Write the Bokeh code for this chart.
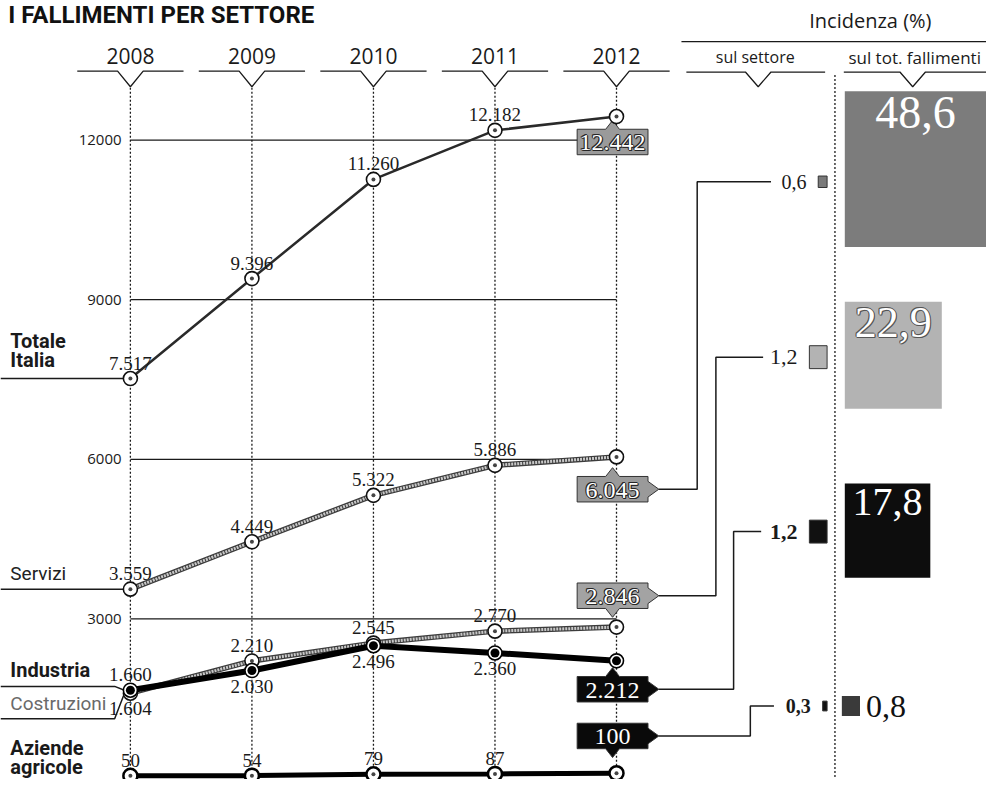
from bokeh.plotting import figure
from bokeh.models import Range1d
from bokeh.core.properties import value
from bokeh.embed import file_html
from bokeh.resources import INLINE

# ---------------- data ----------------
years = [2008, 2009, 2010, 2011, 2012]
year_labels = ["2008", "2009", "2010", "2011", "2012"]
totale = [7517, 9396, 11260, 12182, 12442]
servizi = [3559, 4449, 5322, 5886, 6045]
costruzioni = [1604, 2210, 2545, 2770, 2846]
industria = [1660, 2030, 2496, 2360, 2212]
agricole = [50, 54, 79, 87, 100]
grid_values = [3000, 6000, 9000, 12000]
grid_labels = ["3000", "6000", "9000", "12000"]
inc_settore = [0.6, 1.2, 1.2, 0.3]
inc_settore_labels = ["0,6", "1,2", "1,2", "0,3"]
inc_totale = [48.6, 22.9, 17.8, 0.8]
inc_totale_labels = ["48,6", "22,9", "17,8", "0,8"]


def fmt(v):
    return f"{v:,}".replace(",", ".")


# ---------------- layout helpers (reference-pixel space) ----------------
W, H = 986, 779
REF_W, REF_H = 1002, 795
X0PX, PX_YEAR = 132.0, 123.5
Y0PX, PX_UNIT = 794.0, 0.0543

SANS = "Open Sans"
NARROW = "Roboto"
SERIF = "Liberation Serif"
INK = "#1a1a1a"


def dx(px):
    return 2008 + (px - X0PX) / PX_YEAR


def dy(py):
    return (Y0PX - py) / PX_UNIT


def px_x(yr):
    return X0PX + (yr - 2008) * PX_YEAR


def px_y(v):
    return Y0PX - v * PX_UNIT


p = figure(width=W, height=H,
           x_range=Range1d(dx(0), dx(REF_W)), y_range=Range1d(dy(REF_H), dy(0)),
           output_backend="svg", toolbar_location=None, min_border=0,
           x_axis_location=None, y_axis_location=None)
p.grid.visible = False
p.outline_line_color = None
p.background_fill_color = "white"
p.border_fill_color = "white"


def pl(xs, ys, color=INK, width=1.4, dash="solid"):
    p.line([dx(x) for x in xs], [dy(y) for y in ys], line_color=color,
           line_width=width, line_dash=dash)


def txt(x, y, s, size, font=SANS, style="normal", color=INK, align="left",
        baseline="middle", shadow=None):
    if shadow:
        for ox, oy in ((-1, 0), (1, 0), (0, -1), (0, 1), (1, 1), (-1, -1)):
            p.text(x=[dx(x)], y=[dy(y)], text=[s], text_font=value(font),
                   text_font_size=f"{size}px", text_font_style=style,
                   text_color=shadow, text_align=align, text_baseline=baseline,
                   x_offset=ox, y_offset=oy)
    p.text(x=[dx(x)], y=[dy(y)], text=[s], text_font=value(font),
           text_font_size=f"{size}px", text_font_style=style, text_color=color,
           text_align=align, text_baseline=baseline)


def poly(pts, fill, line=None):
    p.patch([dx(a) for a, b in pts], [dy(b) for a, b in pts], fill_color=fill,
            line_color=line if line else fill, line_width=1)


# ---------------- title & headers ----------------
txt(8, 15, "I FALLIMENTI PER SETTORE", 24, font=NARROW, style="bold", color="#111")

p.text(x=years, y=[dy(57)] * 5, text=year_labels, text_font=value(SANS),
       text_font_size="21px", text_align="center", text_baseline="middle",
       text_color=INK)
for yr in years:
    cx = px_x(yr)
    pl([cx - 54, cx - 13, cx, cx + 13, cx + 54], [72, 72, 88, 72, 72], width=1.3)

txt(884, 20, "Incidenza (%)", 20, align="center")
pl([692, 1002], [42, 42], width=1.3)
txt(767, 58, "sul settore", 16, align="center")
txt(929, 58, "sul tot. fallimenti", 17, align="center")
pl([697, 757, 770, 783, 838], [73, 73, 88, 73, 73], width=1.3)
pl([857, 914, 927, 940, 1002], [73, 73, 88, 73, 73], width=1.3)
pl([848, 848], [76, 795], width=1.3, dash="2 2")

# year dotted guides
p.segment(x0=years, y0=[dy(89)] * 5, x1=years, y1=[dy(792)] * 5,
          line_color=INK, line_width=1.3, line_dash="2 2")

# ---------------- grid ----------------
p.segment(x0=[years[0]] * 4, y0=grid_values, x1=[years[-1]] * 4, y1=grid_values,
          line_color=INK, line_width=1.3)
p.text(x=[dx(123)] * 4, y=grid_values, text=grid_labels, text_font=value(SANS),
       text_font_size="15px", text_align="right", text_baseline="middle",
       text_color=INK)

# ---------------- series lines ----------------
p.line(years, totale, line_color="#2a2a2a", line_width=2.5)
for s in (servizi, costruzioni):
    p.line(years, s, line_color="#3c3c3c", line_width=5.5)
    p.line(years, s, line_color="#c8c8c8", line_width=3, line_dash="2 1")
p.line(years, industria, line_color="#000000", line_width=6)
p.line(years, agricole, line_color="#000000", line_width=5)

# ---------------- left labels ----------------
ty = px_y(totale[0])
pl([0, 125], [ty, ty], width=1.5)
txt(10, ty - 26, "Totale", 20, font=NARROW, style="bold", baseline="bottom")
txt(10, ty - 7, "Italia", 20, font=NARROW, style="bold", baseline="bottom")

sy = px_y(servizi[0])
pl([0, 125], [sy, sy], width=1.5)
txt(10, sy - 4, "Servizi", 19, font=NARROW, baseline="bottom", color="#222")

iy = px_y(industria[0])
cy = px_y(costruzioni[0])
pl([0, 116, 126], [700, 700, iy], width=1.5)
pl([0, 116, 126], [733, 733, cy], width=1.5)
txt(10, 695, "Industria", 20, font=NARROW, style="bold", baseline="bottom")
txt(10, 729, "Costruzioni", 19, font=NARROW, baseline="bottom", color="#6a6a6a")

txt(10, 751, "Aziende", 20, font=NARROW, style="bold", baseline="top")
txt(10, 770, "agricole", 20, font=NARROW, style="bold", baseline="top")

# ---------------- 2012 value boxes + connectors ----------------
rows_y = [185, 364, 542, 720]
turn_x = [708, 727, 745, 762]
end_x = [783, 775, 773, 786]


def box_pts(cx, cyy, w, h, up, down, right):
    L, R, T, B = cx - w / 2, cx + w / 2, cyy - h / 2, cyy + h / 2
    pts = [(L, T)]
    if up:
        pts += [(cx - 7, T), (cx, T - 9), (cx + 7, T)]
    pts += [(R, T)]
    if right:
        pts += [(R, cyy - 8), (R + 11, cyy), (R, cyy + 8)]
    pts += [(R, B)]
    if down:
        pts += [(cx + 7, B), (cx, B + 9), (cx - 7, B)]
    pts += [(L, B)]
    return pts, R + 11


box_specs = [
    # series, offset, up, down, right, fill, shadowed text, row index
    (totale, 26, True, False, False, "#9a9a9a", True, None),
    (servizi, 33, True, False, True, "#9a9a9a", True, 0),
    (costruzioni, -32, False, True, True, "#a3a3a3", True, 1),
    (industria, 29, True, False, True, "#0a0a0a", False, 2),
    (agricole, -38, False, True, True, "#0a0a0a", False, 3),
]
bx = px_x(2012) - 4
for series, off, up, down, right, fill, shad, row in box_specs:
    byc = px_y(series[-1]) + off
    pts, tip = box_pts(bx, byc, 72, 26, up, down, right)
    poly(pts, fill, "#333333")
    if row is not None:
        pl([tip, turn_x[row], turn_x[row], end_x[row]],
           [byc, byc, rows_y[row], rows_y[row]], width=1.5)
    txt(bx, byc + 1, fmt(series[-1]), 24, font=SERIF, color="white",
        align="center", shadow="#262626" if shad else None)

# ---------------- points ----------------
for s in (totale, servizi, costruzioni):
    p.scatter(years, s, size=14, fill_color="white", line_color="#111", line_width=1.6)
    p.scatter(years, s, size=4, fill_color="#444", line_color=None)
p.scatter(years, industria, size=14, fill_color="white", line_color="#000", line_width=1.6)
p.scatter(years, industria, size=9, fill_color="#000", line_color=None)
p.scatter(years, agricole, size=14, fill_color="white", line_color="#000", line_width=2.5)
p.scatter(years, agricole, size=4, fill_color="#444", line_color=None)

# ---------------- value labels 2008-2011 ----------------
label_pos = [
    (totale, ["a", "a", "a", "a"]),
    (servizi, ["a", "a", "a", "a"]),
    (costruzioni, ["b", "a", "a", "a"]),
    (industria, ["a", "b", "b", "b"]),
    (agricole, ["a", "a", "a", "a"]),
]
for series, pos in label_pos:
    for which, base, off in (("a", "bottom", -9), ("b", "top", 9)):
        xs = [years[i] for i in range(4) if pos[i] == which]
        ys = [series[i] for i in range(4) if pos[i] == which]
        if not xs:
            continue
        p.text(x=xs, y=ys, text=[fmt(v) for v in ys], text_font=value(SERIF),
               text_font_size="19px", text_align="center", text_baseline=base,
               y_offset=off, text_color=INK)

# ---------------- incidenza: sul settore ----------------
set_colors = ["#7a7a7a", "#b3b3b3", "#111111", "#111111"]
set_styles = ["normal", "normal", "bold", "bold"]
set_sizes = [20, 22, 22, 20]
for i, v in enumerate(inc_settore):
    w = 15 * v
    h = max(1.3 * w, 10)
    left = 840 - w
    p.quad(left=[dx(left)], right=[dx(840)], top=[dy(rows_y[i] - h / 2)],
           bottom=[dy(rows_y[i] + h / 2)], fill_color=set_colors[i],
           line_color="#333")
    txt(left - 12, rows_y[i], inc_settore_labels[i], set_sizes[i], font=SERIF,
        style=set_styles[i], align="right")

# ---------------- incidenza: sul totale ----------------
tot_centers = [172, 362, 541, 720]
tot_colors = ["#7c7c7c", "#b3b3b3", "#0d0d0d", "#3a3a3a"]
tot_sizes = [46, 44, 40, 32]
for i, v in enumerate(inc_totale):
    w = 20.6 * v ** 0.5
    h = 22.8 * v ** 0.5
    left = 858 if i < 3 else 855
    top = tot_centers[i] - h / 2
    p.quad(left=[dx(left)], right=[dx(left + w)], top=[dy(top)],
           bottom=[dy(top + h)], fill_color=tot_colors[i], line_color=None)
    if i < 3:
        txt(left + w / 2, top + 6, inc_totale_labels[i], tot_sizes[i], font=SERIF,
            color="white", align="center", baseline="top",
            shadow="#555555" if i == 1 else None)
    else:
        txt(left + w + 6, tot_centers[i], inc_totale_labels[i], tot_sizes[i],
            font=SERIF, color="#111", align="left")

open("out.html", "w").write(file_html(p, INLINE))
